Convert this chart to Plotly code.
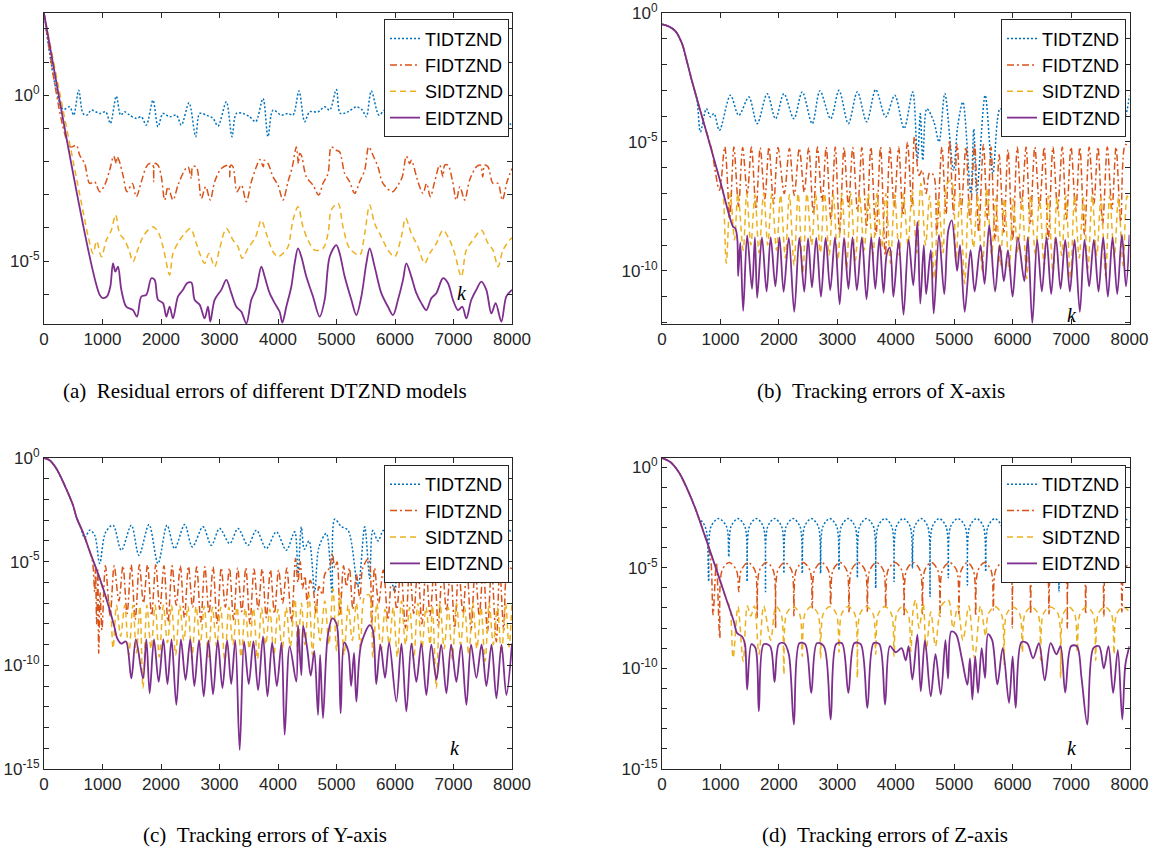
import plotly.graph_objects as go

# ---------------- data: (k, log10 of error) ----------------
names = ["TIDTZND", "FIDTZND", "SIDTZND", "EIDTZND"]
colors = ["#0072BD", "#D95319", "#EDB120", "#7E2F8E"]
dashes = ["2px,2px", "7px,3px,2px,3px", "6px,4px", "solid"]
widths = [1.5, 1.5, 1.5, 1.8]
x_ticks = [0, 1000, 2000, 3000, 4000, 5000, 6000, 7000, 8000]
captions = ["(a)\u00a0\u00a0Residual errors of different DTZND models",
            "(b)\u00a0\u00a0Tracking errors of X-axis",
            "(c)\u00a0\u00a0Tracking errors of Y-axis",
            "(d)\u00a0\u00a0Tracking errors of Z-axis"]

# panel (a)
aT = [(0,2.48),(325,-0.42),(439,-0.35),(507,-0.60),(593,0.15),(667,-0.55),(735,-0.60),(809,-0.45),(952,-0.55),(1054,-0.50),(1134,-0.85),(1236,-0.03),(1311,-0.60),(1379,-0.50),(1464,-0.60),(1578,-0.70),(1664,-0.65),(1749,-0.90),(1863,-0.15),(1949,-0.95),(2034,-0.55),(2148,-0.65),(2262,-0.60),(2348,-0.90),(2479,-0.23),(2593,-1.25),(2661,-0.55),(2775,-0.60),(2889,-0.70),(2974,-0.93),(3117,-0.20),(3214,-1.25),(3288,-0.55),(3402,-0.55),(3516,-0.65),(3618,-0.80),(3744,-0.10),(3829,-1.25),(3915,-0.45),(4057,-0.60),(4171,-0.55),(4256,-0.60),(4359,0.13),(4456,-0.80),(4541,-0.50),(4684,-0.50),(4798,-0.35),(4883,-0.45),(4997,0.17),(5066,-0.55),(5197,-0.50),(5339,-0.35),(5442,-0.45),(5510,-0.65),(5595,0.13),(5727,-0.60),(5823,-0.45),(5950,-0.55),(6100,-0.80),(6230,0.05),(6350,-0.70),(6500,-0.50),(6650,-0.60),(6850,-0.20),(6963,-1.00),(7100,-0.50),(7300,-0.55),(7480,-0.20),(7590,-1.23),(7700,-0.50),(7850,-0.55),(7960,-0.85),(8000,-0.90)]
aF = [(0,2.48),(450,-1.56),(553,-1.51),(610,-1.81),(695,-2.06),(781,-2.66),(866,-2.61),(952,-2.91),(1037,-2.71),(1122,-2.26),(1191,-1.84),(1236,-2.06),(1250,-1.86),(1282,-1.96),(1350,-2.41),(1419,-2.91),(1510,-2.66),(1578,-3.06),(1664,-2.61),(1749,-2.16),(1806,-2.06),(1860,-2.10),(1875,-2.61),(1890,-2.06),(1949,-2.11),(2006,-2.46),(2063,-3.16),(2120,-2.76),(2205,-3.16),(2291,-2.71),(2405,-2.26),(2462,-2.16),(2520,-2.51),(2540,-2.16),(2604,-2.16),(2690,-3.11),(2764,-2.76),(2843,-3.16),(2917,-2.61),(3031,-2.21),(3162,-2.11),(3175,-2.46),(3190,-2.11),(3231,-2.16),(3299,-2.91),(3373,-2.71),(3459,-3.21),(3544,-2.61),(3630,-2.16),(3687,-1.94),(3750,-2.16),(3765,-1.96),(3829,-2.06),(3915,-2.46),(4000,-2.71),(4085,-3.16),(4171,-2.61),(4245,-2.16),(4313,-1.56),(4350,-2.06),(4370,-1.76),(4399,-1.81),(4484,-2.46),(4598,-2.71),(4695,-3.01),(4769,-2.66),(4855,-2.36),(4912,-1.56),(4997,-1.66),(5054,-1.71),(5140,-2.36),(5225,-2.61),(5311,-2.96),(5396,-2.61),(5482,-2.26),(5550,-1.56),(5624,-1.81),(5709,-2.16),(5795,-2.66),(5954,-2.91),(6051,-2.71),(6125,-2.46),(6194,-1.84),(6250,-2.06),(6280,-1.96),(6393,-2.61),(6479,-2.96),(6540,-2.66),(6604,-3.06),(6678,-2.61),(6764,-2.11),(6820,-2.46),(6850,-2.11),(6906,-2.11),(6980,-2.56),(7048,-3.16),(7110,-2.76),(7191,-3.16),(7276,-2.56),(7390,-2.16),(7460,-2.11),(7500,-2.46),(7530,-2.11),(7590,-2.16),(7675,-2.66),(7760,-2.66),(7835,-3.16),(7915,-2.61),(8000,-2.21)]
aS = [(0,2.48),(690,-3.70),(760,-4.30),(838,-4.77),(900,-4.40),(980,-4.87),(1066,-4.37),(1151,-4.07),(1225,-3.61),(1293,-4.17),(1379,-4.37),(1453,-4.67),(1521,-5.02),(1600,-4.67),(1692,-4.27),(1778,-4.07),(1863,-3.97),(1949,-4.12),(2034,-4.57),(2148,-5.42),(2205,-4.77),(2319,-4.37),(2405,-4.17),(2502,-4.02),(2604,-4.47),(2661,-4.77),(2746,-5.07),(2820,-4.77),(2917,-5.17),(3003,-4.62),(3117,-4.02),(3231,-4.37),(3316,-4.57),(3390,-4.92),(3487,-4.62),(3618,-4.27),(3715,-3.77),(3800,-4.17),(3915,-4.72),(4000,-4.87),(4085,-4.77),(4171,-4.57),(4256,-3.77),(4342,-3.36),(4427,-3.97),(4513,-4.37),(4627,-4.67),(4769,-4.62),(4855,-4.17),(4912,-3.46),(5026,-3.26),(5111,-3.97),(5225,-4.62),(5396,-4.82),(5482,-4.17),(5567,-3.31),(5652,-3.87),(5766,-4.27),(5880,-4.67),(5994,-4.87),(6108,-4.27),(6182,-3.71),(6279,-4.17),(6393,-4.57),(6507,-5.07),(6593,-4.77),(6707,-4.47),(6820,-4.07),(6934,-4.37),(7020,-4.77),(7134,-5.47),(7219,-4.67),(7333,-4.37),(7476,-4.07),(7590,-4.47),(7675,-4.67),(7761,-5.17),(7846,-4.67),(7960,-4.37),(8000,-4.30)]
aE = [(0,2.48),(952,-6.02),(1009,-6.12),(1077,-6.07),(1134,-5.77),(1179,-5.07),(1220,-5.32),(1265,-5.17),(1322,-5.87),(1407,-6.38),(1521,-6.48),(1590,-6.68),(1664,-6.07),(1749,-6.02),(1835,-5.52),(1892,-5.57),(1949,-6.17),(2034,-6.27),(2091,-6.68),(2148,-6.38),(2205,-6.73),(2291,-6.07),(2376,-5.87),(2444,-5.67),(2519,-5.65),(2575,-6.17),(2661,-6.32),(2746,-6.73),(2803,-6.38),(2843,-6.83),(2917,-6.17),(3031,-5.87),(3117,-5.57),(3202,-5.97),(3288,-6.38),(3373,-6.53),(3459,-6.88),(3544,-6.17),(3630,-5.82),(3715,-5.17),(3772,-5.47),(3858,-5.97),(3943,-6.27),(4028,-6.53),(4074,-6.86),(4142,-6.38),(4228,-5.77),(4285,-5.07),(4342,-4.62),(4399,-4.87),(4484,-5.47),(4598,-6.07),(4712,-6.68),(4798,-6.17),(4883,-4.87),(4997,-4.52),(5054,-4.77),(5140,-5.47),(5254,-6.17),(5339,-6.63),(5425,-6.07),(5510,-5.07),(5567,-4.62),(5652,-5.17),(5766,-5.97),(5880,-6.38),(5966,-6.63),(6051,-6.17),(6137,-5.57),(6194,-5.07),(6279,-5.47),(6365,-5.97),(6450,-6.27),(6536,-6.48),(6621,-6.12),(6707,-5.97),(6820,-5.52),(6906,-5.67),(6991,-6.17),(7077,-6.48),(7151,-6.38),(7219,-6.73),(7305,-6.17),(7390,-5.87),(7476,-5.62),(7561,-5.87),(7647,-6.58),(7721,-6.27),(7818,-6.83),(7903,-6.07),(8000,-5.87)]

# panel (b)
bT = [(0,-0.44),(114,-0.52),(229,-0.70),(343,-1.19),(429,-1.90),(514,-2.65),(600,-3.40),(657,-4.61),(760,-3.71),(830,-4.03),(890,-3.90),(983,-4.55),(1171,-3.19),(1314,-3.97),(1486,-3.26),(1629,-4.29),(1800,-3.13),(1943,-4.10),(2086,-3.13),(2257,-4.10),(2400,-3.06),(2571,-4.29),(2703,-3.02),(2886,-4.10),(3029,-3.00),(3189,-4.29),(3343,-3.06),(3503,-4.22),(3657,-2.97),(3828,-4.03),(3983,-3.19),(4143,-4.48),(4290,-3.06),(4372,-5.71),(4420,-3.90),(4463,-5.71),(4532,-3.71),(4650,-4.20),(4741,-5.00),(4840,-3.12),(4988,-6.10),(5060,-4.40),(5148,-3.45),(5284,-7.00),(5335,-4.50),(5387,-7.00),(5530,-3.19),(5661,-6.23),(5786,-3.71),(5900,-4.00),(5995,-4.50),(6150,-3.20),(6320,-4.20),(6480,-3.20),(6650,-4.20),(6820,-3.20),(6990,-4.20),(7150,-3.20),(7320,-4.20),(7480,-3.20),(7650,-4.20),(7800,-3.30),(7920,-4.00),(8000,-3.20)]
bF = [(0,-0.44),(114,-0.52),(229,-0.70),(343,-1.19),(429,-1.90),(514,-2.65),(743,-4.48),(840,-5.20),(983,-6.87),(1074,-5.19),(1160,-7.90),(1230,-5.20),(1310,-7.50),(1380,-5.22),(1460,-7.00),(1530,-5.20),(1610,-7.60),(1680,-5.22),(1760,-7.20),(1830,-5.20),(1910,-7.40),(1985,-5.22),(2092,-7.00),(2180,-5.25),(2263,-7.07),(2350,-5.25),(2434,-6.94),(2510,-5.22),(2590,-7.80),(2660,-5.20),(2740,-7.30),(2810,-5.20),(2890,-8.00),(2965,-5.20),(3039,-8.55),(3115,-5.22),(3190,-7.50),(3265,-5.22),(3346,-7.71),(3420,-5.22),(3500,-8.30),(3575,-5.20),(3660,-8.60),(3740,-5.20),(3820,-9.39),(3900,-5.22),(3973,-7.52),(4050,-5.20),(4122,-7.84),(4200,-5.00),(4276,-7.52),(4320,-4.80),(4400,-6.30),(4450,-6.10),(4520,-7.00),(4580,-6.20),(4650,-6.30),(4700,-8.55),(4790,-5.20),(4860,-7.80),(4920,-4.95),(4990,-7.80),(5050,-5.10),(5120,-7.60),(5200,-5.20),(5270,-8.00),(5350,-5.10),(5420,-8.50),(5500,-5.10),(5570,-8.00),(5630,-5.20),(5700,-8.80),(5770,-5.50),(5850,-8.50),(5920,-5.30),(6000,-8.80),(6080,-5.20),(6150,-7.60),(6230,-5.20),(6300,-8.20),(6380,-5.20),(6460,-7.50),(6540,-5.20),(6610,-8.80),(6690,-5.20),(6770,-7.60),(6850,-5.20),(6920,-8.00),(7000,-5.20),(7080,-7.70),(7150,-5.20),(7230,-8.60),(7310,-5.20),(7390,-7.40),(7460,-5.20),(7540,-8.20),(7620,-5.20),(7700,-7.60),(7770,-5.20),(7850,-8.10),(7930,-5.10),(8000,-5.20)]
bS = [(0,-0.44),(114,-0.52),(229,-0.70),(343,-1.19),(429,-1.90),(514,-2.65),(743,-4.48),(1000,-6.55),(1040,-6.85),(1100,-9.70),(1170,-7.00),(1240,-8.80),(1300,-7.00),(1389,-9.20),(1450,-7.00),(1520,-9.00),(1590,-7.05),(1660,-9.30),(1740,-7.00),(1810,-9.00),(1880,-7.00),(1960,-9.20),(2030,-7.05),(2110,-9.50),(2180,-7.05),(2260,-9.78),(2330,-7.00),(2410,-10.10),(2480,-7.00),(2560,-9.00),(2630,-7.05),(2710,-9.30),(2780,-7.00),(2860,-9.40),(2930,-7.05),(3010,-9.60),(3080,-7.00),(3160,-9.90),(3230,-7.00),(3310,-9.60),(3380,-7.05),(3460,-9.20),(3530,-7.00),(3610,-9.40),(3680,-7.00),(3760,-9.10),(3830,-7.00),(3910,-9.70),(3980,-7.05),(4060,-9.40),(4130,-7.00),(4210,-9.00),(4280,-6.90),(4360,-9.30),(4430,-6.60),(4510,-9.00),(4580,-7.10),(4660,-10.30),(4730,-7.20),(4810,-9.30),(4880,-6.60),(4950,-6.50),(5030,-9.60),(5100,-7.00),(5180,-10.50),(5250,-7.20),(5330,-9.10),(5400,-7.10),(5480,-10.00),(5560,-6.80),(5640,-9.40),(5710,-7.20),(5790,-9.80),(5860,-7.20),(5940,-10.00),(6010,-7.20),(6090,-9.30),(6160,-7.15),(6240,-10.30),(6310,-7.10),(6390,-9.40),(6460,-7.15),(6540,-9.80),(6610,-7.10),(6690,-10.10),(6760,-7.15),(6840,-9.40),(6910,-7.10),(6990,-10.30),(7060,-7.10),(7140,-9.50),(7210,-7.15),(7290,-9.90),(7360,-7.10),(7440,-9.40),(7510,-7.15),(7590,-10.20),(7660,-7.10),(7740,-9.50),(7810,-7.15),(7890,-9.80),(7960,-7.10),(8000,-7.30)]
bE = [(0,-0.44),(114,-0.52),(229,-0.70),(343,-1.19),(429,-1.90),(514,-2.65),(743,-4.48),(1000,-6.55),(1217,-8.29),(1257,-8.36),(1290,-8.80),(1303,-10.20),(1340,-8.90),(1389,-11.55),(1457,-8.62),(1540,-10.70),(1590,-8.70),(1629,-11.05),(1710,-8.70),(1790,-10.80),(1860,-8.70),(1940,-10.60),(2010,-8.70),(2081,-10.81),(2170,-8.72),(2263,-11.59),(2350,-8.72),(2434,-10.81),(2500,-8.74),(2566,-10.64),(2640,-8.72),(2720,-11.00),(2800,-8.72),(2879,-10.75),(2960,-8.70),(3040,-11.30),(3115,-8.72),(3190,-10.70),(3260,-8.70),(3335,-10.75),(3420,-8.70),(3500,-11.10),(3580,-8.70),(3650,-10.70),(3720,-8.70),(3791,-10.85),(3848,-9.33),(3900,-9.10),(3960,-11.00),(4050,-8.80),(4133,-11.70),(4220,-8.80),(4300,-10.56),(4370,-8.10),(4420,-11.27),(4480,-9.00),(4520,-10.90),(4600,-9.20),(4650,-11.65),(4740,-8.60),(4830,-10.90),(4900,-8.42),(4960,-8.04),(5050,-10.00),(5100,-9.00),(5180,-11.59),(5280,-9.20),(5350,-10.80),(5450,-9.00),(5520,-10.50),(5600,-8.23),(5700,-10.80),(5780,-9.00),(5850,-10.40),(5920,-9.20),(6000,-11.00),(6090,-8.70),(6200,-10.40),(6260,-8.70),(6337,-12.04),(6420,-8.80),(6500,-10.80),(6580,-8.70),(6660,-10.90),(6740,-8.70),(6820,-10.70),(6900,-8.80),(6980,-10.80),(7060,-8.80),(7150,-11.59),(7230,-8.80),(7310,-10.60),(7390,-8.80),(7470,-10.80),(7550,-8.70),(7630,-11.00),(7710,-8.70),(7790,-10.90),(7870,-8.60),(7940,-10.60),(8000,-8.60)]

# panel (c)
cT = [(0,0.00),(97,-0.11),(211,-0.51),(353,-1.32),(496,-2.28),(541,-2.75),(620,-3.30),(695,-3.85),(781,-3.48),(866,-3.72),(952,-5.09),(1050,-3.60),(1180,-3.24),(1322,-4.45),(1493,-3.24),(1624,-4.69),(1795,-3.21),(1949,-5.09),(2103,-3.24),(2234,-4.37),(2405,-3.21),(2536,-4.29),(2718,-3.32),(2860,-4.21),(3003,-3.40),(3174,-4.13),(3316,-3.40),(3487,-4.21),(3630,-3.48),(3800,-4.37),(3972,-3.56),(4142,-4.45),(4285,-3.56),(4342,-5.57),(4399,-3.32),(4450,-4.40),(4530,-4.00),(4627,-6.45),(4700,-4.30),(4826,-3.64),(4923,-6.53),(4969,-2.95),(5080,-3.30),(5200,-3.50),(5368,-6.21),(5482,-3.32),(5567,-5.81),(5620,-3.50),(5710,-4.00),(5800,-3.50),(5994,-6.45),(6100,-3.50),(6300,-3.40),(6450,-4.20),(6600,-3.40),(6780,-4.20),(6950,-3.40),(7120,-4.20),(7300,-3.40),(7480,-4.20),(7650,-3.40),(7820,-4.20),(7950,-3.50),(8000,-3.60)]
cF = [(0,0.00),(97,-0.11),(211,-0.51),(353,-1.32),(496,-2.28),(560,-2.90),(667,-3.60),(781,-4.50),(830,-5.00),(866,-6.45),(880,-5.30),(900,-8.00),(920,-5.40),(935,-9.42),(960,-6.50),(990,-8.30),(1050,-5.20),(1130,-7.60),(1200,-5.20),(1280,-6.90),(1350,-5.20),(1420,-7.50),(1490,-5.15),(1560,-7.80),(1630,-5.15),(1700,-7.00),(1770,-5.15),(1840,-7.60),(1910,-5.15),(1980,-7.30),(2050,-5.20),(2120,-7.90),(2190,-5.20),(2260,-7.10),(2330,-5.20),(2400,-7.70),(2470,-5.22),(2540,-7.20),(2610,-5.25),(2680,-7.90),(2750,-5.25),(2820,-7.50),(2890,-5.25),(2960,-8.00),(3030,-5.30),(3100,-7.20),(3170,-5.30),(3240,-7.80),(3310,-5.30),(3380,-7.40),(3450,-5.30),(3520,-8.00),(3590,-5.35),(3660,-7.30),(3730,-5.35),(3800,-7.70),(3870,-5.40),(3940,-7.50),(4010,-5.40),(4080,-7.00),(4150,-5.30),(4230,-7.90),(4300,-4.85),(4340,-6.00),(4380,-5.00),(4420,-6.30),(4460,-5.70),(4500,-7.00),(4550,-5.90),(4600,-6.30),(4650,-7.50),(4700,-6.20),(4760,-6.60),(4800,-5.60),(4880,-5.30),(4930,-4.60),(4970,-5.30),(5010,-5.00),(5060,-7.60),(5120,-5.20),(5170,-6.20),(5220,-5.30),(5280,-7.30),(5340,-5.60),(5400,-6.80),(5450,-5.30),(5550,-4.85),(5600,-8.00),(5650,-5.30),(5720,-7.00),(5800,-5.40),(5880,-7.80),(5950,-5.40),(6030,-7.30),(6100,-5.35),(6180,-8.20),(6250,-5.30),(6320,-7.50),(6390,-5.30),(6460,-8.00),(6530,-5.30),(6600,-7.60),(6670,-5.30),(6740,-8.10),(6810,-5.30),(6880,-7.40),(6950,-5.30),(7020,-8.20),(7090,-5.30),(7160,-7.50),(7230,-5.30),(7300,-8.30),(7370,-5.30),(7440,-7.60),(7510,-5.30),(7580,-8.40),(7650,-5.30),(7732,-8.86),(7790,-5.30),(7860,-8.30),(7930,-5.30),(8000,-5.35)]
cS = [(0,0.00),(97,-0.11),(211,-0.51),(353,-1.32),(496,-2.28),(560,-2.90),(667,-3.60),(781,-4.50),(952,-5.80),(1060,-6.75),(1120,-7.00),(1180,-9.18),(1240,-7.10),(1310,-8.60),(1380,-7.10),(1450,-9.50),(1520,-7.10),(1580,-9.40),(1640,-7.15),(1692,-11.10),(1760,-7.10),(1830,-9.20),(1900,-7.10),(1970,-9.60),(2040,-7.10),(2110,-8.90),(2180,-7.10),(2250,-9.50),(2320,-7.10),(2390,-8.80),(2460,-7.15),(2530,-9.70),(2600,-7.15),(2670,-9.00),(2740,-7.15),(2810,-9.60),(2880,-7.20),(2950,-9.10),(3020,-7.20),(3090,-9.80),(3160,-7.20),(3230,-9.00),(3300,-7.20),(3370,-9.60),(3440,-7.25),(3510,-9.20),(3580,-7.25),(3650,-9.70),(3720,-7.25),(3790,-9.00),(3860,-7.30),(3930,-9.50),(4000,-7.30),(4070,-9.30),(4140,-7.20),(4210,-9.10),(4290,-6.80),(4340,-9.40),(4400,-7.00),(4460,-9.00),(4530,-6.60),(4590,-9.50),(4650,-7.00),(4720,-8.80),(4800,-6.90),(4870,-9.00),(4940,-6.30),(5000,-9.30),(5060,-6.50),(5130,-9.50),(5200,-7.10),(5270,-8.80),(5340,-7.00),(5410,-9.20),(5480,-6.70),(5560,-6.60),(5620,-9.60),(5690,-7.00),(5760,-9.40),(5830,-7.30),(5900,-9.00),(5970,-7.20),(6040,-9.60),(6110,-6.90),(6180,-9.00),(6250,-7.20),(6320,-9.70),(6390,-7.00),(6460,-9.20),(6530,-7.20),(6600,-9.00),(6640,-7.10),(6706,-11.10),(6770,-7.00),(6840,-9.20),(6910,-7.20),(6980,-9.70),(7050,-7.00),(7120,-9.00),(7190,-7.20),(7260,-9.50),(7330,-7.00),(7400,-9.20),(7470,-7.20),(7540,-9.80),(7610,-7.00),(7680,-9.00),(7750,-7.20),(7820,-9.50),(7890,-7.00),(7950,-9.10),(8000,-6.90)]
cE = [(0,0.00),(97,-0.11),(211,-0.51),(353,-1.32),(496,-2.28),(560,-2.90),(667,-3.60),(781,-4.50),(952,-5.80),(1100,-7.10),(1208,-8.20),(1248,-8.67),(1322,-8.95),(1400,-8.85),(1493,-10.63),(1570,-8.75),(1692,-10.63),(1750,-8.75),(1806,-11.35),(1880,-8.75),(1960,-10.80),(2040,-8.75),(2110,-10.90),(2180,-8.75),(2262,-11.91),(2340,-8.75),(2420,-10.70),(2500,-8.75),(2570,-11.00),(2650,-8.80),(2730,-11.50),(2810,-8.80),(2890,-11.40),(2970,-8.80),(3050,-11.10),(3130,-8.80),(3200,-10.90),(3270,-8.80),(3345,-14.08),(3420,-8.85),(3500,-10.90),(3580,-8.85),(3660,-11.20),(3744,-8.60),(3820,-11.50),(3900,-8.90),(3980,-11.00),(4060,-8.90),(4114,-13.35),(4200,-9.10),(4313,-10.79),(4342,-8.06),(4399,-10.47),(4430,-8.10),(4500,-9.20),(4560,-10.50),(4620,-9.30),(4684,-12.39),(4720,-9.50),(4769,-12.55),(4850,-8.60),(4930,-7.74),(5000,-8.00),(5071,-12.31),(5130,-8.90),(5200,-9.30),(5250,-11.00),(5300,-9.40),(5339,-11.75),(5420,-9.00),(5567,-8.06),(5620,-8.30),(5680,-10.90),(5750,-9.00),(5830,-10.60),(5900,-8.90),(6023,-11.75),(6110,-8.95),(6194,-12.23),(6280,-8.95),(6365,-10.80),(6450,-8.95),(6536,-11.43),(6620,-9.00),(6707,-10.70),(6790,-9.00),(6878,-11.35),(6960,-9.00),(7049,-10.80),(7130,-9.00),(7220,-11.91),(7300,-9.00),(7391,-10.60),(7480,-9.00),(7562,-11.00),(7650,-9.00),(7733,-11.59),(7820,-9.00),(7904,-11.43),(8000,-8.95)]

# panel (d)
dT = [(0,0.45),(143,0.25),(286,-0.25),(429,-1.07),(571,-2.06),(640,-2.60),(700,-2.75),(762,-3.20),(800,-5.69),(838,-2.96),(971,-2.56),(1105,-2.96),(1143,-4.46),(1181,-2.96),(1300,-2.56),(1419,-2.96),(1457,-5.69),(1495,-2.96),(1614,-2.56),(1733,-2.96),(1771,-6.19),(1809,-2.96),(1928,-2.56),(2048,-2.96),(2086,-5.28),(2124,-2.96),(2243,-2.56),(2362,-2.96),(2400,-5.28),(2438,-2.96),(2557,-2.56),(2676,-2.96),(2714,-5.28),(2752,-2.96),(2871,-2.56),(2991,-2.96),(3029,-5.12),(3067,-2.96),(3186,-2.56),(3305,-2.96),(3343,-5.50),(3381,-2.96),(3500,-2.56),(3619,-2.96),(3657,-6.02),(3695,-2.96),(3814,-2.56),(3933,-2.96),(3971,-5.69),(4009,-2.96),(4128,-2.56),(4247,-2.96),(4285,-5.03),(4323,-2.96),(4436,-2.56),(4549,-2.96),(4587,-6.44),(4625,-2.96),(4743,-2.56),(4862,-2.96),(4900,-5.50),(4938,-2.96),(5063,-2.56),(5188,-2.96),(5226,-5.86),(5264,-2.96),(5382,-2.56),(5501,-2.96),(5539,-5.20),(5577,-2.96),(5696,-2.56),(5815,-2.96),(5853,-5.00),(5891,-2.96),(6010,-2.56),(6128,-2.96),(6166,-5.40),(6204,-2.96),(6323,-2.56),(6442,-2.96),(6480,-5.30),(6518,-2.96),(6637,-2.56),(6755,-2.96),(6793,-6.19),(6831,-2.96),(6950,-2.56),(7069,-2.96),(7107,-5.00),(7145,-2.96),(7264,-2.56),(7383,-2.96),(7421,-5.00),(7459,-2.96),(7578,-2.56),(7697,-2.96),(7735,-5.00),(7773,-2.96),(7892,-2.56),(8000,-2.70)]
dF = [(0,0.45),(143,0.25),(286,-0.25),(429,-1.07),(571,-2.06),(714,-3.25),(800,-4.00),(840,-4.74),(874,-7.34),(930,-4.74),(989,-8.50),(1027,-5.14),(1151,-4.74),(1276,-5.14),(1314,-6.19),(1352,-5.14),(1471,-4.74),(1591,-5.14),(1629,-7.51),(1667,-5.14),(1786,-4.74),(1905,-5.14),(1943,-8.00),(1981,-5.14),(2100,-4.74),(2219,-5.14),(2257,-7.40),(2295,-5.14),(2414,-4.74),(2533,-5.14),(2571,-7.00),(2609,-5.14),(2728,-4.74),(2848,-5.14),(2886,-6.85),(2924,-5.14),(3043,-4.74),(3162,-5.14),(3200,-7.20),(3238,-5.14),(3357,-4.74),(3476,-5.14),(3514,-7.18),(3552,-5.14),(3671,-4.74),(3790,-5.14),(3828,-7.00),(3866,-5.14),(3985,-4.74),(4105,-5.14),(4143,-7.43),(4181,-5.14),(4300,-4.74),(4418,-5.14),(4456,-7.30),(4494,-5.14),(4607,-4.74),(4720,-5.14),(4758,-7.43),(4796,-5.14),(4920,-4.74),(5043,-5.14),(5081,-7.30),(5119,-5.14),(5225,-4.74),(5330,-5.14),(5368,-7.40),(5406,-5.14),(5520,-4.74),(5632,-5.14),(5670,-7.10),(5708,-5.14),(5830,-4.74),(5957,-5.14),(5995,-8.00),(6033,-5.14),(6150,-4.74),(6270,-5.14),(6308,-7.30),(6346,-5.14),(6465,-4.74),(6584,-5.14),(6622,-7.30),(6660,-5.14),(6780,-4.74),(6898,-5.14),(6936,-8.00),(6974,-5.14),(7090,-4.74),(7212,-5.14),(7250,-7.30),(7288,-5.14),(7405,-4.74),(7522,-5.14),(7560,-7.40),(7598,-5.14),(7715,-4.74),(7832,-5.14),(7870,-7.20),(7908,-5.14),(8000,-4.76)]
dS = [(0,0.45),(143,0.25),(286,-0.25),(429,-1.07),(571,-2.06),(714,-3.25),(857,-4.46),(1000,-5.69),(1114,-6.68),(1160,-6.93),(1217,-9.49),(1300,-6.93),(1389,-9.65),(1460,-6.90),(1520,-7.40),(1580,-6.90),(1660,-9.30),(1740,-6.90),(1860,-8.60),(1950,-6.93),(2040,-7.30),(2086,-10.31),(2130,-7.30),(2243,-6.93),(2355,-7.30),(2400,-9.40),(2445,-7.30),(2557,-6.93),(2670,-7.30),(2714,-9.50),(2758,-7.30),(2871,-6.93),(2985,-7.30),(3029,-9.20),(3073,-7.30),(3186,-6.93),(3299,-7.30),(3343,-10.48),(3387,-7.30),(3500,-6.93),(3613,-7.30),(3657,-9.30),(3701,-7.30),(3814,-6.93),(3927,-7.30),(3971,-9.40),(4015,-7.30),(4114,-6.93),(4213,-7.30),(4257,-9.16),(4301,-7.00),(4340,-6.60),(4400,-8.00),(4470,-6.80),(4520,-9.10),(4600,-7.20),(4680,-8.90),(4780,-6.90),(4900,-6.60),(4980,-8.00),(5060,-6.90),(5150,-8.60),(5250,-6.90),(5350,-9.50),(5450,-6.90),(5539,-8.40),(5583,-7.30),(5696,-6.93),(5809,-7.30),(5853,-9.80),(5897,-7.30),(6010,-6.95),(6122,-7.30),(6166,-9.20),(6210,-7.30),(6323,-6.95),(6436,-7.30),(6480,-9.60),(6524,-7.30),(6650,-6.95),(6778,-7.30),(6822,-10.48),(6866,-7.30),(6965,-6.95),(7063,-7.30),(7107,-9.20),(7151,-7.30),(7264,-6.95),(7377,-7.30),(7421,-9.60),(7465,-7.30),(7578,-6.95),(7691,-7.30),(7735,-9.30),(7779,-7.30),(7892,-6.95),(8000,-7.20)]
dE = [(0,0.45),(143,0.25),(286,-0.25),(429,-1.07),(571,-2.06),(714,-3.25),(857,-4.46),(1000,-5.69),(1114,-6.68),(1229,-7.67),(1286,-8.25),(1371,-8.42),(1420,-8.80),(1457,-11.06),(1530,-8.80),(1600,-9.00),(1657,-12.13),(1740,-8.80),(1850,-8.90),(1926,-10.68),(2000,-8.80),(2090,-8.75),(2170,-9.30),(2257,-12.79),(2350,-8.75),(2450,-8.80),(2554,-11.22),(2650,-8.75),(2770,-8.90),(2886,-12.54),(2980,-8.80),(3080,-8.75),(3189,-11.22),(3290,-8.75),(3400,-8.80),(3514,-11.96),(3620,-8.75),(3720,-8.80),(3817,-11.80),(3900,-8.90),(4000,-9.20),(4100,-9.00),(4170,-9.60),(4220,-8.90),(4285,-10.56),(4370,-8.33),(4428,-11.14),(4500,-8.60),(4599,-11.39),(4680,-9.30),(4770,-11.30),(4850,-8.60),(4895,-10.50),(4950,-8.17),(5030,-8.30),(5130,-9.50),(5226,-10.81),(5270,-9.50),(5311,-11.55),(5360,-9.40),(5408,-11.22),(5470,-9.00),(5528,-10.48),(5580,-8.30),(5650,-8.60),(5739,-10.80),(5830,-9.00),(5938,-11.72),(6000,-9.40),(6052,-11.96),(6150,-8.70),(6250,-8.75),(6350,-9.50),(6450,-8.75),(6550,-10.60),(6650,-8.75),(6750,-9.30),(6820,-8.90),(6900,-11.20),(7000,-8.90),(7100,-8.90),(7180,-10.50),(7278,-12.79),(7380,-9.00),(7480,-8.90),(7560,-10.00),(7640,-8.90),(7720,-11.22),(7800,-9.10),(7876,-12.54),(7930,-9.80),(8000,-8.90)]

panels = [[aT, aF, aS, aE], [bT, bF, bS, bE], [cT, cF, cS, cE], [dT, dF, dS, dE]]
y_ranges = [(-6.9, 2.48), (-12.04, 0.0), (-15.0, 0.0), (-15.0, 0.45)]
y_labelled = [[0, -5], [0, -5, -10], [0, -5, -10, -15], [0, -5, -10, -15]]

# ---------------- layout geometry (pixels) ----------------
W, H = 1156, 851
boxes = [(44, 512, 13, 324), (662, 1129.5, 13, 323.5), (44, 512, 458, 769), (662, 1129.5, 458, 769)]
legend_pos = [(384, 19.3), (1001, 19.3), (384, 465), (1001, 465)]
k_label_pos = [(462, 293), (1072, 315), (455, 748), (1072, 748)]
caption_pos = [(265, 391), (881, 391), (265, 835), (885, 835)]

AX = "#262626"
TICKFONT = dict(size=17, color=AX, family="Liberation Sans, Arial")
fig = go.Figure()
layout = dict(template="none", width=W, height=H, margin=dict(l=0, r=0, t=0, b=0, autoexpand=False),
              paper_bgcolor="white", plot_bgcolor="white", showlegend=True,
              font=dict(family="Liberation Sans, Arial, sans-serif", color=AX))
annotations = []

for p in range(4):
    xs = "" if p == 0 else str(p + 1)
    leg = "legend" if p == 0 else "legend%d" % (p + 1)
    for s in range(4):
        pts = panels[p][s]
        fig.add_trace(go.Scatter(
            x=[q[0] for q in pts], y=[10 ** q[1] for q in pts],
            mode="lines", name=names[s], legend=leg,
            line=dict(color=colors[s], dash=dashes[s], width=widths[s], shape="spline", smoothing=0.9),
            xaxis="x" + xs, yaxis="y" + xs, hoverinfo="skip"))
    x0, x1, y0, y1 = boxes[p]
    lo, hi = y_ranges[p]
    dec = [e for e in range(-16, 4) if lo - 1e-9 <= e <= hi + 1e-9]
    tv = [10.0 ** e for e in dec]
    tt = [("10<sup>%d</sup>" % e) if e in y_labelled[p] else "" for e in dec]
    common = dict(ticks="inside", ticklen=5, tickcolor=AX, tickwidth=1,
                  showline=True, linecolor=AX, linewidth=1, mirror="ticks",
                  showgrid=False, zeroline=False, automargin=False, tickfont=TICKFONT)
    layout["xaxis" + xs] = dict(domain=[x0 / W, x1 / W], range=[0, 8000], anchor="y" + xs,
                                tickvals=x_ticks, ticktext=[str(v) for v in x_ticks], **common)
    layout["yaxis" + xs] = dict(domain=[1 - y1 / H, 1 - y0 / H], type="log", range=[lo, hi],
                                anchor="x" + xs, tickvals=tv, ticktext=tt, **common)
    lx, ly = legend_pos[p]
    layout[leg] = dict(x=lx / W, y=1 - ly / H, xanchor="left", yanchor="top",
                       bgcolor="white", bordercolor=AX, borderwidth=1,
                       font=dict(size=18, color="black", family="Liberation Sans, Arial"),
                       tracegroupgap=0, itemwidth=30)
    kx, ky = k_label_pos[p]
    annotations.append(dict(x=kx / W, y=1 - ky / H, xref="paper", yref="paper", showarrow=False,
                            xanchor="center", yanchor="middle",
                            text="<i>k</i>", font=dict(family="Liberation Serif, Times New Roman", size=20, color="black")))
    cx, cy = caption_pos[p]
    annotations.append(dict(x=cx / W, y=1 - cy / H, xref="paper", yref="paper", showarrow=False,
                            xanchor="center", yanchor="middle",
                            text=captions[p], font=dict(family="Liberation Serif, Times New Roman", size=21, color="black")))

layout["annotations"] = annotations
fig.update_layout(**layout)
fig.write_html("out.html")
